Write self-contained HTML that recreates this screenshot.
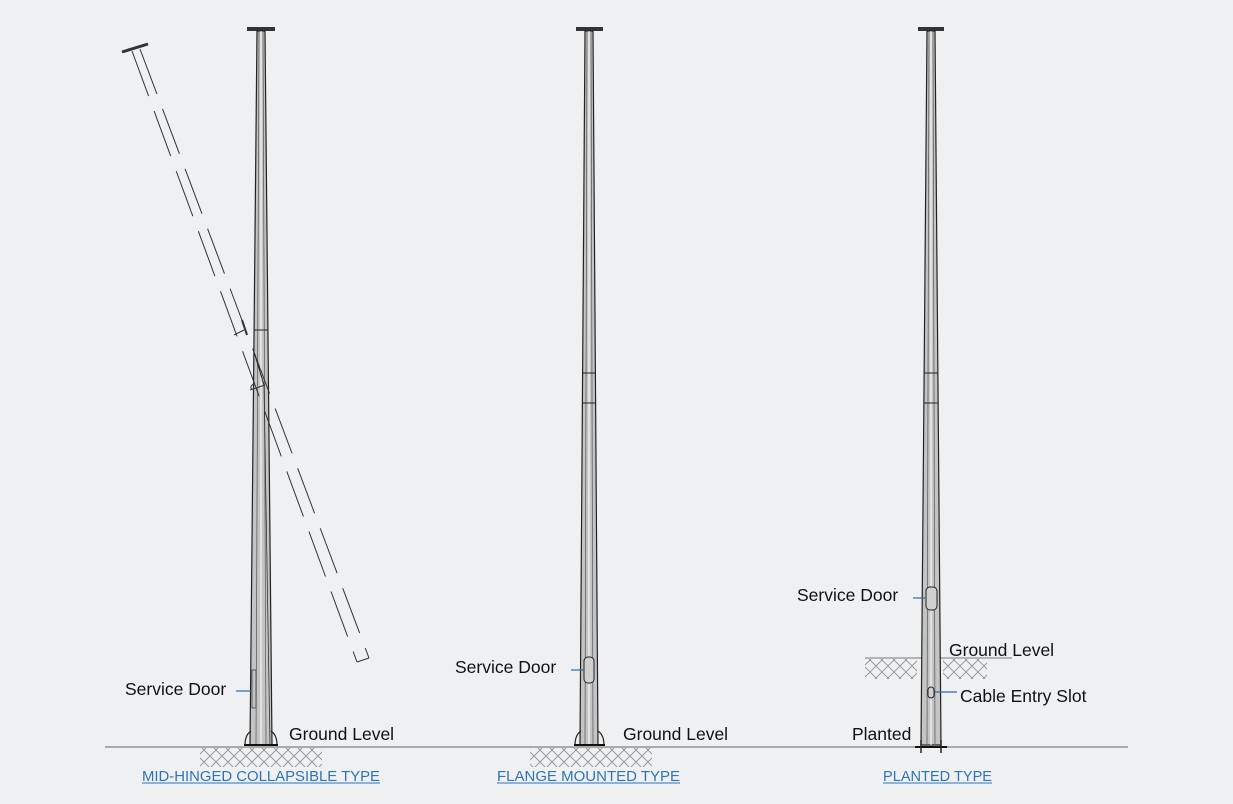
<!DOCTYPE html>
<html><head><meta charset="utf-8"><style>
html,body{margin:0;padding:0;background:#eff0f2;}
svg{display:block}
text{font-family:"Liberation Sans",Arial,sans-serif;}
</style></head><body>
<svg width="1233" height="804" viewBox="0 0 1233 804" xmlns="http://www.w3.org/2000/svg">
<defs>
<pattern id="hatch" width="12" height="12" patternUnits="userSpaceOnUse">
<path d="M0 6 L6 0 L12 6 M0 6 L6 12 L12 6" fill="none" stroke="#888" stroke-width="0.8"/>
</pattern>
</defs>
<rect width="1233" height="804" fill="#eff0f2"/>
<line x1="105" y1="747" x2="1128" y2="747" stroke="#808080" stroke-width="1.2"/>
<rect x="200" y="748" width="122" height="19" fill="url(#hatch)"/>
<rect x="530" y="748" width="122" height="19" fill="url(#hatch)"/>
<rect x="865" y="659" width="52" height="20" fill="url(#hatch)"/>
<rect x="943" y="659" width="44" height="20" fill="url(#hatch)"/>
<line x1="865" y1="658" x2="1012" y2="658" stroke="#777" stroke-width="1"/>

<!-- LEFT POLE -->
<rect x="247" y="27" width="28" height="4" fill="#333"/>
<polygon points="257,31 265,31 272,745 250,745" fill="#c4c4c4" stroke="#222" stroke-width="1.2"/>
<line x1="259" y1="31" x2="256" y2="745" stroke="#555" stroke-width="0.7"/>
<line x1="263" y1="31" x2="266" y2="745" stroke="#555" stroke-width="0.7"/>
<line x1="261" y1="31" x2="261" y2="745" stroke="#fff" stroke-width="1"/>
<line x1="254" y1="330" x2="268" y2="330" stroke="#222" stroke-width="1"/>
<line x1="255" y1="355" x2="264" y2="385" stroke="#222" stroke-width="1"/>
<line x1="264" y1="385" x2="270" y2="745" stroke="#333" stroke-width="0.8"/>
<path d="M252 390 q-3 -4 2 -6" fill="none" stroke="#333" stroke-width="1"/>
<rect x="252" y="670" width="4" height="38" fill="none" stroke="#444" stroke-width="0.8"/>
<path d="M245 745 q0 -10 6 -14 M277 745 q0 -10 -6 -14" fill="none" stroke="#222" stroke-width="1.2"/>
<line x1="244" y1="745" x2="278" y2="745" stroke="#111" stroke-width="2"/>
<line x1="122" y1="52" x2="148" y2="44" stroke="#333" stroke-width="3"/>
<line x1="132" y1="51" x2="357" y2="662" stroke="#333" stroke-width="1" stroke-dasharray="48,16"/>
<line x1="140" y1="49" x2="369" y2="658" stroke="#333" stroke-width="1" stroke-dasharray="48,16"/>
<line x1="357" y1="662" x2="369" y2="658" stroke="#333" stroke-width="1"/>
<line x1="234" y1="335" x2="244" y2="330" stroke="#333" stroke-width="1"/>
<line x1="242" y1="320" x2="247" y2="335" stroke="#333" stroke-width="2"/>
<line x1="250" y1="390" x2="265" y2="385" stroke="#333" stroke-width="1"/>
<text x="125" y="695" font-size="17.5" fill="#111">Service Door</text>
<line x1="236" y1="691" x2="251" y2="691" stroke="#2e6aa8" stroke-width="1.2"/>
<text x="289" y="740" font-size="17.5" fill="#111">Ground Level</text>
<text x="142" y="781" font-size="15" fill="#2e75b6" textLength="238" lengthAdjust="spacingAndGlyphs">MID-HINGED COLLAPSIBLE TYPE</text>
<line x1="142" y1="783" x2="380" y2="783" stroke="#2e75b6" stroke-width="1"/>

<!-- MIDDLE POLE -->
<rect x="576" y="27" width="27" height="4" fill="#333"/>
<polygon points="585,31 593,31 598,745 580,745" fill="#c4c4c4" stroke="#222" stroke-width="1.2"/>
<line x1="587" y1="31" x2="585" y2="745" stroke="#555" stroke-width="0.7"/>
<line x1="591" y1="31" x2="593" y2="745" stroke="#555" stroke-width="0.7"/>
<line x1="589" y1="31" x2="589" y2="745" stroke="#fff" stroke-width="1"/>
<line x1="582" y1="373" x2="596" y2="373" stroke="#222" stroke-width="1"/>
<line x1="582" y1="403" x2="596" y2="403" stroke="#222" stroke-width="1"/>
<rect x="584" y="657" width="10" height="26" rx="4" fill="#d0d0d0" stroke="#222" stroke-width="1"/>
<path d="M575 745 q0 -10 6 -14 M604 745 q0 -10 -6 -14" fill="none" stroke="#222" stroke-width="1.2"/>
<line x1="574" y1="745" x2="605" y2="745" stroke="#111" stroke-width="2"/>
<text x="455" y="673" font-size="17.5" fill="#111">Service Door</text>
<line x1="571" y1="670" x2="584" y2="670" stroke="#2e6aa8" stroke-width="1.2"/>
<text x="623" y="740" font-size="17.5" fill="#111">Ground Level</text>
<text x="497" y="781" font-size="15" fill="#2e75b6" textLength="183" lengthAdjust="spacingAndGlyphs">FLANGE MOUNTED TYPE</text>
<line x1="497" y1="783" x2="680" y2="783" stroke="#2e75b6" stroke-width="1"/>

<!-- RIGHT POLE -->
<rect x="918" y="27" width="26" height="4" fill="#333"/>
<polygon points="927,31 935,31 941,745 921,745" fill="#c4c4c4" stroke="#222" stroke-width="1.2"/>
<line x1="929" y1="31" x2="927" y2="745" stroke="#555" stroke-width="0.7"/>
<line x1="933" y1="31" x2="935" y2="745" stroke="#555" stroke-width="0.7"/>
<line x1="931" y1="31" x2="931" y2="745" stroke="#fff" stroke-width="1"/>
<line x1="924" y1="373" x2="938" y2="373" stroke="#222" stroke-width="1"/>
<line x1="924" y1="403" x2="938" y2="403" stroke="#222" stroke-width="1"/>
<rect x="926" y="587" width="11" height="23" rx="4" fill="#d0d0d0" stroke="#222" stroke-width="1"/>
<rect x="928" y="687" width="6" height="11" rx="3" fill="#d0d0d0" stroke="#222" stroke-width="1"/>
<line x1="915" y1="747" x2="947" y2="747" stroke="#111" stroke-width="2"/>
<line x1="921" y1="740" x2="921" y2="753" stroke="#222" stroke-width="1.5"/>
<line x1="941" y1="740" x2="941" y2="753" stroke="#222" stroke-width="1.5"/>
<text x="797" y="601" font-size="17.5" fill="#111">Service Door</text>
<line x1="913" y1="598" x2="925" y2="598" stroke="#2e6aa8" stroke-width="1.2"/>
<text x="949" y="656" font-size="17.5" fill="#111">Ground Level</text>
<text x="960" y="702" font-size="17.5" fill="#111">Cable Entry Slot</text>
<line x1="935" y1="692" x2="957" y2="692" stroke="#2e6aa8" stroke-width="1.2"/>
<text x="852" y="740" font-size="17.5" fill="#111">Planted</text>
<text x="883" y="781" font-size="15" fill="#2e75b6" textLength="109" lengthAdjust="spacingAndGlyphs">PLANTED TYPE</text>
<line x1="883" y1="783" x2="992" y2="783" stroke="#2e75b6" stroke-width="1"/>
</svg>
</body></html>
